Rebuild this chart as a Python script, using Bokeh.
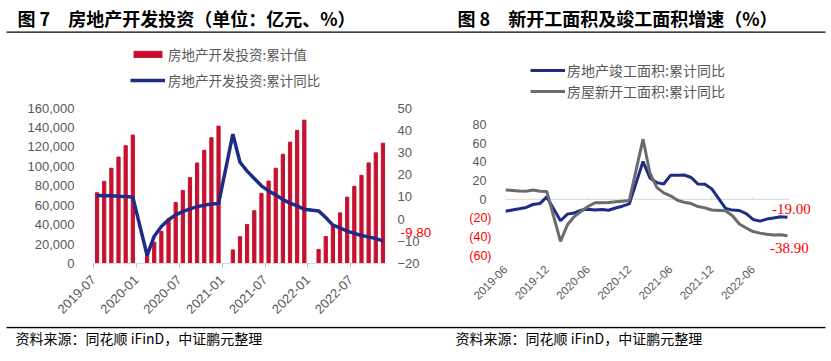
import math
from bokeh.plotting import figure
from bokeh.models import (Range1d, LinearAxis, NumeralTickFormatter, FixedTicker, Legend,
                          LegendItem, Label)
from bokeh.layouts import column, row
from bokeh.embed import file_html
from bokeh.resources import INLINE
from bokeh.core.properties import value

# ---------------- data: Figure 7 (房地产开发投资) ----------------
inv_start = "2019-07"
inv_months = ["2019-07", "2019-08", "2019-09", "2019-10", "2019-11", "2019-12",
              "2020-02", "2020-03", "2020-04", "2020-05", "2020-06", "2020-07", "2020-08",
              "2020-09", "2020-10", "2020-11", "2020-12",
              "2021-02", "2021-03", "2021-04", "2021-05", "2021-06", "2021-07", "2021-08",
              "2021-09", "2021-10", "2021-11", "2021-12",
              "2022-02", "2022-03", "2022-04", "2022-05", "2022-06", "2022-07", "2022-08",
              "2022-09", "2022-10", "2022-11"]
inv_value = [72843, 84589, 98008, 109603, 121265, 132194,
             10115, 21963, 33103, 45920, 62780, 75255, 88454, 103484, 116556, 129492, 141443,
             13986, 27576, 40240, 54318, 72179, 84895, 98060, 112559, 124934, 136979, 147602,
             14499, 27765, 39154, 52134, 68314, 79462, 90809, 103559, 113945, 123863]
inv_yoy = [10.6, 10.5, 10.5, 10.3, 10.2, 9.9,
           -16.3, -7.7, -3.3, -0.3, 1.9, 3.4, 4.6, 5.6, 6.3, 6.8, 7.0,
           38.3, 25.6, 21.6, 18.3, 15.0, 12.7, 10.9, 8.8, 7.2, 6.0, 4.4,
           3.7, 0.7, -2.7, -4.0, -5.4, -6.4, -7.4, -8.0, -8.8, -9.8]
inv_tick_labels = ["2019-07", "2020-01", "2020-07", "2021-01", "2021-07", "2022-01", "2022-07"]
inv_value_ticks = [0, 20000, 40000, 60000, 80000, 100000, 120000, 140000, 160000]
inv_pct_ticks = [-20, -10, 0, 10, 20, 30, 40, 50]
inv_n_months = 41

# ---------------- data: Figure 8 (新开工 / 竣工面积) ----------------
area_start = "2019-06"
area_months = ["2019-06", "2019-07", "2019-08", "2019-09", "2019-10", "2019-11", "2019-12",
               "2020-02", "2020-03", "2020-04", "2020-05", "2020-06", "2020-07", "2020-08",
               "2020-09", "2020-10", "2020-11", "2020-12",
               "2021-02", "2021-03", "2021-04", "2021-05", "2021-06", "2021-07", "2021-08",
               "2021-09", "2021-10", "2021-11", "2021-12",
               "2022-02", "2022-03", "2022-04", "2022-05", "2022-06", "2022-07", "2022-08",
               "2022-09", "2022-10", "2022-11"]
completed_yoy = [-12.7, -11.3, -10.0, -8.6, -5.5, -4.5, 2.6,
                 -22.9, -15.8, -14.5, -11.5, -10.5, -11.4, -10.8, -11.6, -9.2, -7.3, -4.9,
                 40.4, 22.9, 17.9, 16.4, 25.7, 25.7, 26.0, 23.4, 16.3, 16.2, 11.2,
                 -9.6, -11.5, -11.9, -15.3, -21.5, -23.3, -21.1, -19.9, -18.7, -19.0]
newstart_yoy = [10.1, 9.5, 8.9, 8.6, 10.0, 8.6, 8.5,
                -44.9, -27.2, -18.4, -12.8, -7.6, -3.6, -3.6, -3.4, -2.6, -1.9, -1.2,
                64.3, 28.2, 12.8, 6.9, 3.8, -0.9, -3.2, -4.5, -7.7, -9.1, -11.4,
                -12.2, -17.5, -26.3, -30.6, -34.4, -36.1, -37.2, -38.0, -37.8, -38.9]
area_tick_labels = ["2019-06", "2019-12", "2020-06", "2020-12", "2021-06", "2021-12", "2022-06"]
area_pos_ticks = [0, 20, 40, 60, 80]
area_neg_ticks = [-20, -40, -60]

title7 = "图 7　房地产开发投资（单位：亿元、%）"
title8 = "图 8　新开工面积及竣工面积增速（%）"
source_text = "资料来源：同花顺 iFinD，中证鹏元整理"

# ---------------- styles / layout ----------------
RED = "#C8102E"
BLUE = "#1F2C86"
GREY = "#6B6B6B"
LABEL_GREY = "#595959"
CJK = "Noto Sans CJK SC"
SANS = "Liberation Sans"
SERIF = "Liberation Serif"

TOTAL_W = 831
HDR_H, MID_H, FTR_H = 38, 288, 35

# figure 7 frame geometry (pixels)
P1_W, P1_LEFT, P1_FRAME_W, P1_TOP, P1_BOTTOM = 436, 93, 293, 4, 63
P1_PX_PER_VALUE = 155.4 / 160000      # px per 亿元
P1_PX_PER_PCT = 155.4 / 70            # px per %
# figure 8 frame geometry (pixels)
P2_W = TOTAL_W - P1_W
P2_LEFT, P2_FRAME_W, P2_TOP, P2_BOTTOM = 69, 310, 7, 71
P2_PX_PER_MONTH = 6.877
P2_PX_PER_PCT = 131 / 140
P2_AXIS_END = 41.3


def midx(s, start):
    y, m = map(int, s.split("-"))
    y0, m0 = map(int, start.split("-"))
    return (y - y0) * 12 + (m - m0)


def clean(p):
    p.xgrid.visible = False
    p.ygrid.visible = False
    p.outline_line_color = None
    p.background_fill_color = None
    p.border_fill_color = None


def quiet_axis(ax, size, color=LABEL_GREY, font=SANS, standoff=10):
    ax.axis_line_color = None
    ax.major_tick_line_color = None
    ax.minor_tick_line_color = None
    ax.major_tick_out = 0
    ax.major_tick_in = 0
    ax.major_label_text_font = font
    ax.major_label_text_font_size = size
    ax.major_label_text_color = color
    ax.major_label_standoff = standoff


# ---------------- header ----------------
hdr = figure(width=TOTAL_W, height=HDR_H, x_range=Range1d(0, TOTAL_W), y_range=Range1d(HDR_H, 0),
             x_axis_location=None, y_axis_location=None, min_border=0,
             output_backend="svg", toolbar_location=None)
clean(hdr)
hdr.text(x=[17, 457], y=[17, 17], text=[title7, title8], text_font=value(CJK),
         text_font_style="bold", text_font_size="18px", text_baseline="middle",
         text_color="black")
hdr.segment(x0=[6], y0=[31.7], x1=[825], y1=[31.7], line_color="black", line_width=1.3)

# ---------------- Figure 7 ----------------
p1_frame_h = MID_H - P1_TOP - P1_BOTTOM
inv_x = [midx(m, inv_start) + 0.5 for m in inv_months]
p1 = figure(width=P1_W, height=MID_H, x_range=Range1d(0, inv_n_months),
            y_range=Range1d(0, p1_frame_h / P1_PX_PER_VALUE),
            min_border_left=P1_LEFT, min_border_right=P1_W - P1_LEFT - P1_FRAME_W,
            min_border_top=P1_TOP, min_border_bottom=P1_BOTTOM,
            output_backend="svg", toolbar_location=None)
clean(p1)
p1.frame_align = False
p1.extra_y_ranges = {"pct": Range1d(-20, -20 + p1_frame_h / P1_PX_PER_PCT)}
bars = p1.vbar(x=inv_x, top=inv_value, width=0.45, color=RED)
yoy_line = p1.line(x=inv_x, y=inv_yoy, y_range_name="pct", color=BLUE, line_width=3.5)

inv_ticks = [midx(t, inv_start) for t in inv_tick_labels]
xa = p1.xaxis[0]
xa.ticker = FixedTicker(ticks=inv_ticks)
xa.major_label_overrides = {t: l for t, l in zip(inv_ticks, inv_tick_labels)}
xa.major_label_orientation = math.pi / 4
xa.axis_line_color = "#D9D9D9"
xa.major_tick_line_color = "#BFBFBF"
xa.major_tick_out = 4
xa.major_tick_in = 0
xa.minor_tick_line_color = None
xa.major_label_standoff = 10
xa.major_label_text_font = SANS
xa.major_label_text_font_size = "13px"
xa.major_label_text_color = LABEL_GREY

ya = p1.yaxis[0]
ya.ticker = FixedTicker(ticks=inv_value_ticks)
ya.formatter = NumeralTickFormatter(format="0,0")
quiet_axis(ya, "13px", standoff=19)

ra = LinearAxis(y_range_name="pct", ticker=FixedTicker(ticks=inv_pct_ticks))
quiet_axis(ra, "13px", standoff=11)
p1.add_layout(ra, "right")

# data label of the last YoY value, shown in red in the right margin
last_tick = round(inv_yoy[-1] + 3.7, 1)
ra2 = LinearAxis(y_range_name="pct", ticker=FixedTicker(ticks=[last_tick]),
                 major_label_overrides={last_tick: f"{inv_yoy[-1]:.2f}"})
quiet_axis(ra2, "13.5px", color="red", standoff=-22)
p1.add_layout(ra2, "right")

leg1 = Legend(items=[LegendItem(label="房地产开发投资:累计值", renderers=[bars]),
                     LegendItem(label="房地产开发投资:累计同比", renderers=[yoy_line])],
              location=(37, 173), orientation="vertical")
leg1.border_line_color = None
leg1.background_fill_alpha = 0
leg1.padding = 0
leg1.margin = 0
leg1.spacing = 6
leg1.glyph_width = 35
leg1.glyph_height = 8
leg1.label_height = 14
leg1.label_standoff = 3
leg1.label_text_font = CJK
leg1.label_text_font_size = "13.5px"
leg1.label_text_color = LABEL_GREY
p1.add_layout(leg1)

# ---------------- Figure 8 ----------------
p2_frame_h = MID_H - P2_TOP - P2_BOTTOM
area_x = [midx(m, area_start) for m in area_months]
p2 = figure(width=P2_W, height=MID_H, x_range=Range1d(0, P2_FRAME_W / P2_PX_PER_MONTH),
            y_range=Range1d(-60, -60 + p2_frame_h / P2_PX_PER_PCT),
            min_border_left=P2_LEFT, min_border_right=P2_W - P2_LEFT - P2_FRAME_W,
            min_border_top=P2_TOP, min_border_bottom=P2_BOTTOM,
            output_backend="svg", toolbar_location=None)
clean(p2)
p2.frame_align = False
area_ticks = [midx(t, area_start) for t in area_tick_labels]
# zero line acting as the category axis, with its small tick marks
p2.segment(x0=[0], y0=[0], x1=[P2_AXIS_END], y1=[0], line_color="#D9D9D9", line_width=1)
p2.segment(x0=area_ticks, y0=[0] * len(area_ticks), x1=area_ticks, y1=[3] * len(area_ticks),
           line_color="#D9D9D9", line_width=1)
comp_line = p2.line(x=area_x, y=completed_yoy, color=BLUE, line_width=3)
new_line = p2.line(x=area_x, y=newstart_yoy, color=GREY, line_width=3)

xb = p2.xaxis[0]
xb.ticker = FixedTicker(ticks=area_ticks)
xb.major_label_overrides = {t: l for t, l in zip(area_ticks, area_tick_labels)}
xb.major_label_orientation = math.pi / 4
quiet_axis(xb, "11.5px", standoff=12)

yb = p2.yaxis[0]
yb.ticker = FixedTicker(ticks=area_pos_ticks)
quiet_axis(yb, "12.5px", standoff=19)

yb2 = LinearAxis(ticker=FixedTicker(ticks=area_neg_ticks),
                 major_label_overrides={v: f"({abs(v)})" for v in area_neg_ticks})
quiet_axis(yb2, "12.5px", color="red", standoff=-22)
p2.add_layout(yb2, "left")

leg2 = Legend(items=[LegendItem(label="房地产竣工面积:累计同比", renderers=[comp_line]),
                     LegendItem(label="房屋新开工面积:累计同比", renderers=[new_line])],
              location=(25, 154), orientation="vertical")
leg2.border_line_color = None
leg2.background_fill_alpha = 0
leg2.padding = 0
leg2.margin = 0
leg2.spacing = 1
leg2.glyph_width = 35
leg2.glyph_height = 8
leg2.label_height = 14
leg2.label_standoff = 2
leg2.label_text_font = CJK
leg2.label_text_font_size = "14px"
leg2.label_text_color = LABEL_GREY
p2.add_layout(leg2)

p2.add_layout(Label(x=area_x[-1], y=completed_yoy[-1], x_offset=4, y_offset=8.4,
                    text=f"{completed_yoy[-1]:.2f}", text_color="red", text_font=SERIF,
                    text_font_size="15px", text_baseline="middle", text_align="center"))
p2.add_layout(Label(x=area_x[-1], y=newstart_yoy[-1], x_offset=2, y_offset=-12.4,
                    text=f"{newstart_yoy[-1]:.2f}", text_color="red", text_font=SERIF,
                    text_font_size="15px", text_baseline="middle", text_align="center"))

# ---------------- footer ----------------
ftr = figure(width=TOTAL_W, height=FTR_H, x_range=Range1d(0, TOTAL_W), y_range=Range1d(FTR_H, 0),
             x_axis_location=None, y_axis_location=None, min_border=0,
             output_backend="svg", toolbar_location=None)
clean(ftr)
ftr.segment(x0=[6], y0=[1], x1=[825], y1=[1], line_color="black", line_width=1.3)
ftr.text(x=[15, 455], y=[11, 11], text=[source_text, source_text], text_font=value(CJK),
         text_font_size="14px", text_baseline="middle", text_color="black")

layout = column(hdr, row(p1, p2), ftr)
open("out.html", "w").write(file_html(layout, INLINE))
